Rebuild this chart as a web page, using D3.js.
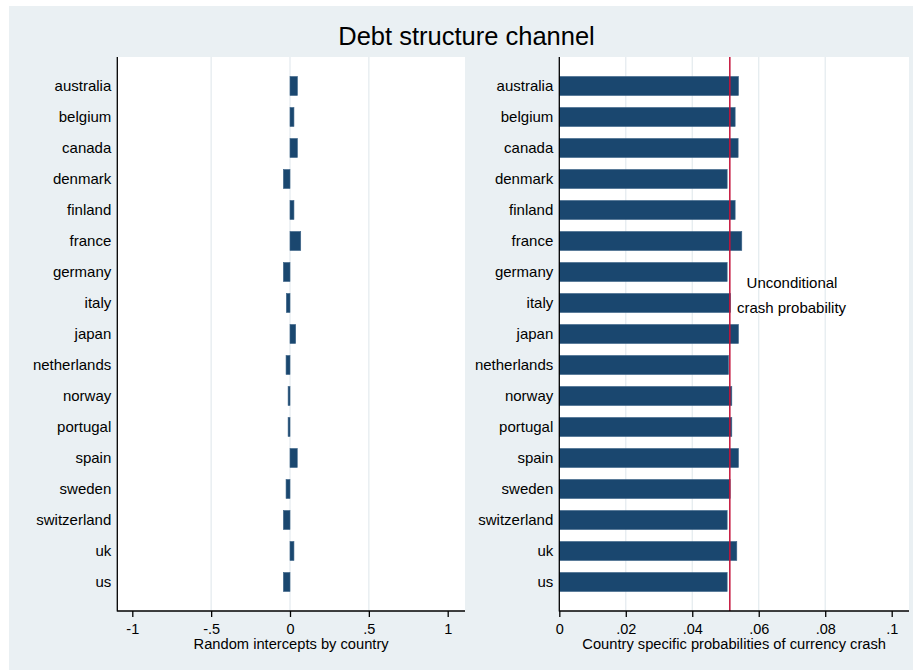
<!DOCTYPE html>
<html>
<head>
<meta charset="utf-8">
<script src="https://cdn.jsdelivr.net/npm/d3@7"></script>
<style>
  html, body { margin: 0; padding: 0; background: #ffffff; }
  svg { display: block; font-family: "Liberation Sans", Arial, sans-serif; }
</style>
</head>
<body>
<svg id="chart" width="913" height="670"></svg>
<script>
// ---- data ----
const countries = ["australia","belgium","canada","denmark","finland","france","germany","italy","japan","netherlands","norway","portugal","spain","sweden","switzerland","uk","us"];
const intercepts = [0.047, 0.025, 0.047, -0.042, 0.025, 0.068, -0.042, -0.023, 0.036, -0.025, -0.012, -0.012, 0.046, -0.025, -0.042, 0.025, -0.042];
const probabilities = [0.0539, 0.0529, 0.0538, 0.0505, 0.0529, 0.0549, 0.0505, 0.0515, 0.0539, 0.0509, 0.0519, 0.0519, 0.0539, 0.0514, 0.0505, 0.0534, 0.0505];
const unconditional = 0.0513;
const leftTicks = [-1, -0.5, 0, 0.5, 1];
const leftTickLabels = ["-1", "-.5", "0", ".5", "1"];
const leftGrid = [-0.5, 0, 0.5];
const rightTicks = [0, 0.02, 0.04, 0.06, 0.08, 0.1];
const rightTickLabels = ["0", ".02", ".04", ".06", ".08", ".1"];
const rightGrid = [0.02, 0.04, 0.06, 0.08];
const title = "Debt structure channel";
const leftXTitle = "Random intercepts by country";
const rightXTitle = "Country specific probabilities of currency crash";
const annotation = ["Unconditional", "crash probability"];

// ---- styles ----
const bg = "#eaf0f3";
const barColor = "#1a476f";
const gridColor = "#e3eaee";
const refColor = "#c4123a";

const svg = d3.select("#chart");
svg.append("rect").attr("x", 9).attr("y", 6).attr("width", 904).attr("height", 664).attr("fill", bg);

svg.append("text").attr("x", 466.5).attr("y", 45).attr("text-anchor", "middle")
  .attr("font-size", 25.5).attr("fill", "#000").text(title);

const plotTop = 57, axisY = 611;
const y = d3.scaleBand().domain(countries).range([70.5, 597.5]).paddingInner(0.387).paddingOuter(0.1935);

function panel(opts) {
  const g = svg.append("g");
  const x = d3.scaleLinear().domain(opts.domain).range(opts.range);
  g.append("rect").attr("x", opts.left).attr("y", plotTop)
    .attr("width", opts.right - opts.left).attr("height", axisY - plotTop).attr("fill", "#fff");
  g.selectAll(".grid").data(opts.grid).enter().append("line")
    .attr("x1", d => x(d)).attr("x2", d => x(d)).attr("y1", plotTop).attr("y2", axisY)
    .attr("stroke", gridColor).attr("stroke-width", 1.2);
  g.selectAll(".bar").data(countries).enter().append("rect")
    .attr("x", (d, i) => Math.min(x(0), x(opts.values[i])))
    .attr("width", (d, i) => Math.abs(x(opts.values[i]) - x(0)))
    .attr("y", d => y(d)).attr("height", y.bandwidth())
    .attr("fill", barColor).attr("stroke", "#3d6488").attr("stroke-width", 0.6);
  if (opts.ref !== undefined) {
    g.append("line").attr("x1", x(opts.ref)).attr("x2", x(opts.ref))
      .attr("y1", plotTop).attr("y2", axisY).attr("stroke", refColor).attr("stroke-width", 1.5);
  }
  // axes lines
  g.append("line").attr("x1", opts.left).attr("x2", opts.left).attr("y1", plotTop).attr("y2", axisY + 0.5)
    .attr("stroke", "#000").attr("stroke-width", 1.3);
  g.append("line").attr("x1", opts.left).attr("x2", opts.right).attr("y1", axisY).attr("y2", axisY)
    .attr("stroke", "#000").attr("stroke-width", 1.3);
  // x ticks
  const xAxis = d3.axisBottom(x).tickValues(opts.ticks).tickSize(6).tickPadding(7)
    .tickFormat((d, i) => opts.tickLabels[i]);
  const ax = g.append("g").attr("transform", `translate(0,${axisY})`).call(xAxis);
  ax.select(".domain").remove();
  ax.selectAll(".tick line").attr("stroke", "#000").attr("stroke-width", 1.3);
  ax.selectAll(".tick text").attr("font-size", 14.5).attr("fill", "#000")
    .attr("font-family", "Liberation Sans, Arial, sans-serif").attr("dy", "0.71em");
  // category labels
  g.selectAll(".cat").data(countries).enter().append("text")
    .attr("x", opts.left - 6).attr("y", d => y(d) + y.bandwidth() / 2 + 5)
    .attr("text-anchor", "end").attr("font-size", 15).attr("fill", "#000").text(d => d);
  // x title
  g.append("text").attr("x", (opts.left + opts.right) / 2).attr("y", 648.5)
    .attr("text-anchor", "middle").attr("font-size", 14.7).attr("fill", "#000").text(opts.xtitle);
  return x;
}

panel({ domain: [-1, 1], range: [132.3, 447.7], left: 117.3, right: 465, grid: leftGrid,
  values: intercepts, ticks: leftTicks, tickLabels: leftTickLabels, xtitle: leftXTitle });
panel({ domain: [0, 0.1], range: [559.3, 891.7], left: 559.3, right: 909, grid: rightGrid,
  values: probabilities, ticks: rightTicks, tickLabels: rightTickLabels, xtitle: rightXTitle, ref: unconditional });

svg.append("text").attr("x", 792).attr("y", 287.5).attr("text-anchor", "middle")
  .attr("font-size", 15).attr("fill", "#000").text(annotation[0]);
svg.append("text").attr("x", 791.5).attr("y", 313.3).attr("text-anchor", "middle")
  .attr("font-size", 15).attr("fill", "#000").text(annotation[1]);
</script>
</body>
</html>
